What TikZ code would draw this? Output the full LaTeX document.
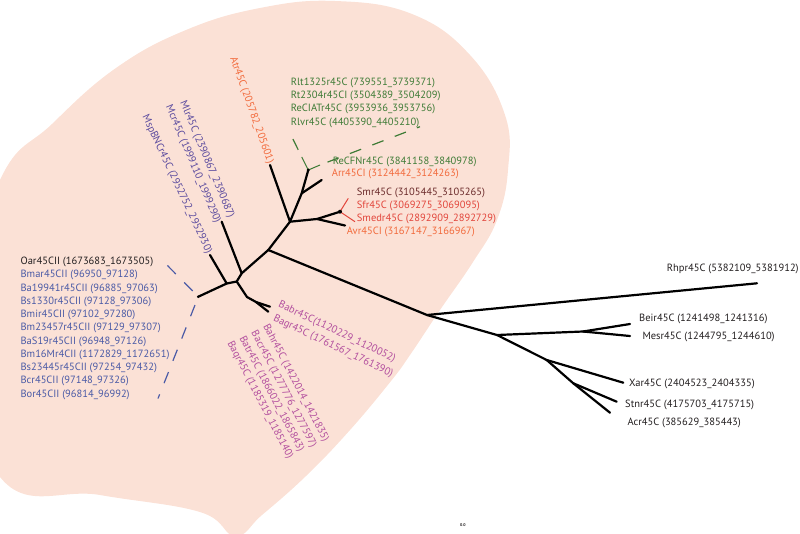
\documentclass[tikz,border=0pt]{standalone}
\usepackage{fontspec}
\setmainfont{PT Sans}
\usepackage{xcolor}
\usepackage{tikz}
\usetikzlibrary{calc}
\definecolor{blobpeach}{HTML}{FBE1D6}
\definecolor{inkgray}{HTML}{231F20}
\definecolor{bluelist}{HTML}{4A5AA6}
\definecolor{violetlbl}{HTML}{5A4A9E}
\definecolor{magentalbl}{HTML}{B24E9E}
\definecolor{greenlbl}{HTML}{3E7B36}
\definecolor{orangelbl}{HTML}{F26A3C}
\definecolor{maroonlbl}{HTML}{6B2B2B}
\definecolor{redlbl}{HTML}{E2453B}
\tikzset{
  branch/.style={line width=2.2pt, line cap=round, line join=round, black},
  stub/.style={line width=1pt, #1},
  dashlink/.style={line width=1.2pt, #1, dash pattern=on 12pt off 12pt},
  leaf/.style={font=\fontsize{10.5}{12}\selectfont, text=#1, anchor=west, inner sep=0pt},
  leaf/.default=inkgray,
}

\begin{document}
\begin{tikzpicture}[x=1pt, y=-1pt,
  knot/.style={fill=black},
  tilt/.style={leaf=#1, anchor=east}]
  \useasboundingbox (0,0) rectangle (800,533);
  \fill[blobpeach] plot[smooth cycle, tension=0.7] coordinates {(0,180) (52,124) (116,68) (186,30) (260,8) (335,1) (412,14) (470,55) (505,115) (508,170) (497,220) (473,262) (440,310) (410,355) (391,381) (350,430) (306,476) (262,515) (235,536) (200,512) (100,495) (0,477) (-40,320)};
  % inner nodes
  \coordinate (blueroot) at (198.3,296.7);
  \coordinate (nmsp) at (226.7,283.5);
  \coordinate (nbaa) at (236.7,281.5);
  \coordinate (nmlr) at (241.7,273.3);
  \coordinate (nb) at (268.3,250);
  \coordinate (nc) at (290,221.7);
  \coordinate (nd) at (317,219);
  \coordinate (redroot) at (340,211.7);
  \coordinate (nf) at (301.7,193.3);
  \coordinate (greenroot) at (308.3,170);
  \coordinate (nj) at (427,315);
  \coordinate (nk) at (497,335);
  \coordinate (nl) at (583,331.5);
  \coordinate (nm) at (546.7,360);
  \coordinate (nn) at (573.3,383.3);
  \coordinate (nh) at (247,297);
  \coordinate (nhr) at (256,302);
  \coordinate (nhd) at (251.5,307);
  % tips
  \coordinate (tatr) at (270,165);
  \coordinate (tmlr) at (221.7,221.7);
  \coordinate (tmsp) at (210,255);
  \coordinate (tavr) at (345,225.5);
  \coordinate (tarr) at (321.7,180);
  \coordinate (trhpr) at (757,283.3);
  \coordinate (tbeir) at (630,324);
  \coordinate (tmesr) at (630,336);
  \coordinate (txar) at (623.3,382.7);
  \coordinate (tstnr) at (616.7,401.7);
  \coordinate (tacr) at (610,412.7);
  \coordinate (thab) at (270,306.7);
  \coordinate (thag) at (268.3,311.7);
  \coordinate (gtip1) at (301.7,157);
  \coordinate (gtip2) at (320,165);
  \coordinate (gend1) at (290,133);
  \coordinate (gend2) at (420,126.7);
  \coordinate (rtip1) at (348.3,198.3);
  \coordinate (rtip2) at (355,221.7);
  \coordinate (bend1) at (160,258);
  \coordinate (bend2) at (158,398.5);

  \draw[branch] (blueroot) -- (nmsp) -- (nbaa) -- (nmlr) -- (nb) -- (nc) -- (nf) -- (greenroot);
  \draw[branch] (nmsp) -- (tmsp);
  \draw[branch] (nmlr) -- (tmlr);
  \draw[branch] (nc) -- (tatr);
  \draw[branch] (nc) -- (nd) -- (redroot);
  \draw[branch] (nd) -- (tavr);
  \draw[branch] (nf) -- (tarr);
  \draw[branch] (nb) -- (nj) -- (trhpr);
  \draw[branch] (nj) -- (nk) -- (nl) -- (tbeir);
  \draw[branch] (nl) -- (tmesr);
  \draw[branch] (nk) -- (nm) -- (txar);
  \draw[branch] (nm) -- (nn) -- (tstnr);
  \draw[branch] (nn) -- (tacr);
  \draw[branch] (nbaa) -- (nh) -- (nhr) -- (thab);
  \draw[branch] (nhr) -- (thag);
  \foreach \p [count=\k] in {(250,322), (253.5,322.5), (257,321.5), (260,319.5)}
    { \coordinate (thd\k) at \p; \draw[branch] (nh) -- (nhd) -- (thd\k); }

  \draw[stub=greenlbl] (gtip1) -- (greenroot) -- (gtip2);
  \draw[dashlink=greenlbl, dash phase=16pt] (gtip1) -- (gend1);
  \draw[dashlink=greenlbl, dash phase=16pt] (gtip2) -- (gend2);
  \draw[stub=redlbl] (rtip1) -- (redroot) -- (rtip2);
  \draw[dashlink=bluelist, dash phase=16pt] (blueroot) -- (bend1);
  \draw[dashlink=bluelist, dash phase=15pt] (blueroot) -- (bend2);
  \fill[knot] (blueroot) circle (1.4);
  \fill[knot] (greenroot) circle (1.6);
  \fill[knot] (redroot) circle (2);

  \node[leaf] (loar) at (20.4,261.9) {Oar45CII (1673683\_1673505)};
  \foreach \t [count=\k] in {Bmar45CII (96950\_97128), Ba19941r45CII (96885\_97063), Bs1330r45CII (97128\_97306), Bmir45CII (97102\_97280), Bm23457r45CII (97129\_97307), BaS19r45CII (96948\_97126), Bm16Mr4CII (1172829\_1172651), Bs23445r45CII (97254\_97432), Bcr45CII (97148\_97326), Bor45CII (96814\_96992)}
    { \node[leaf=bluelist] (lblue\k) at (20.4,261.9+\k*13.27) {\t}; }
  \foreach \t [count=\k] in {Rlt1325r45C (739551\_3739371), Rt2304r45CI (3504389\_3504209), ReCIATr45C (3953936\_3953756), Rlvr45C (4405390\_4405210)}
    { \node[leaf=greenlbl] (lgreen\k) at (290.7,69.4+\k*13.3) {\t}; }
  \node[leaf=greenlbl] (lrecfn) at (332.7,161.7) {ReCFNr45C (3841158\_3840978)};
  \node[leaf=orangelbl] (larr) at (331.7,174.3) {Arr45CI (3124442\_3124263)};
  \node[leaf=maroonlbl] (lsmr) at (356.7,192.7) {Smr45C (3105445\_3105265)};
  \node[leaf=redlbl] (lsfr) at (356.7,205.7) {Sfr45C (3069275\_3069095)};
  \node[leaf=redlbl] (lsmedr) at (356.7,219) {Smedr45C (2892909\_2892729)};
  \node[leaf=orangelbl] (lavr) at (346.7,231.7) {Avr45CI (3167147\_3166967)};

  \node[tilt=orangelbl, rotate=-70.3] (latr) at (270.4,163.3) {Atr45C (205782\_205601)};
  \node[tilt=violetlbl, rotate=-67.1] (lmlr) at (231.3,217.7) {Mlr45C (2390867\_2390687)};
  \node[tilt=violetlbl, rotate=-67.1] (lmcr) at (217.7,222.8) {Mcr45C (1999110\_1999290)};
  \node[tilt=violetlbl, rotate=-64.9] (lmsp) at (209,253) {MspBNCr45C (2952752\_2952930)};

  \node[leaf=magentalbl, rotate=-25.5] (lbabr) at (278.9,304.4) {Babr45C(1120229\_1120052)};
  \node[leaf=magentalbl, rotate=-25.5] (lbagr) at (273.8,318) {Bagr45C (1761567\_1761390)};
  \foreach \t/\p [count=\k] in {Bahr45C (1422014\_1421835)/{(265.3,324.8)}, Bacr45C (1277776\_1277597)/{(253.4,331.6)}, Batr45C (1866022\_1865843)/{(241.5,336.7)}, Baqr45C (1185319\_1185140)/{(229.6,341.8)}}
    { \node[leaf=magentalbl, rotate=-62.5] (lbadown\k) at \p {\t}; }

  \node[leaf] (lrhpr) at (666.7,269.3) {Rhpr45C (5382109\_5381912)};
  \node[leaf] (lbeir) at (639,319.3) {Beir45C (1241498\_1241316)};
  \node[leaf] (lmesr) at (642.3,337.3) {Mesr45C (1244795\_1244610)};
  \node[leaf] (lxar) at (629,384) {Xar45C (2404523\_2404335)};
  \node[leaf] (lstnr) at (625,405.3) {Stnr45C (4175703\_4175715)};
  \node[leaf] (lacr) at (627.3,422.7) {Acr45C (385629\_385443)};
  \node[font=\fontsize{4}{5}\selectfont\bfseries, text=inkgray, inner sep=0pt] (scalelbl) at (463,525) {0.0};
\end{tikzpicture}
\end{document}
